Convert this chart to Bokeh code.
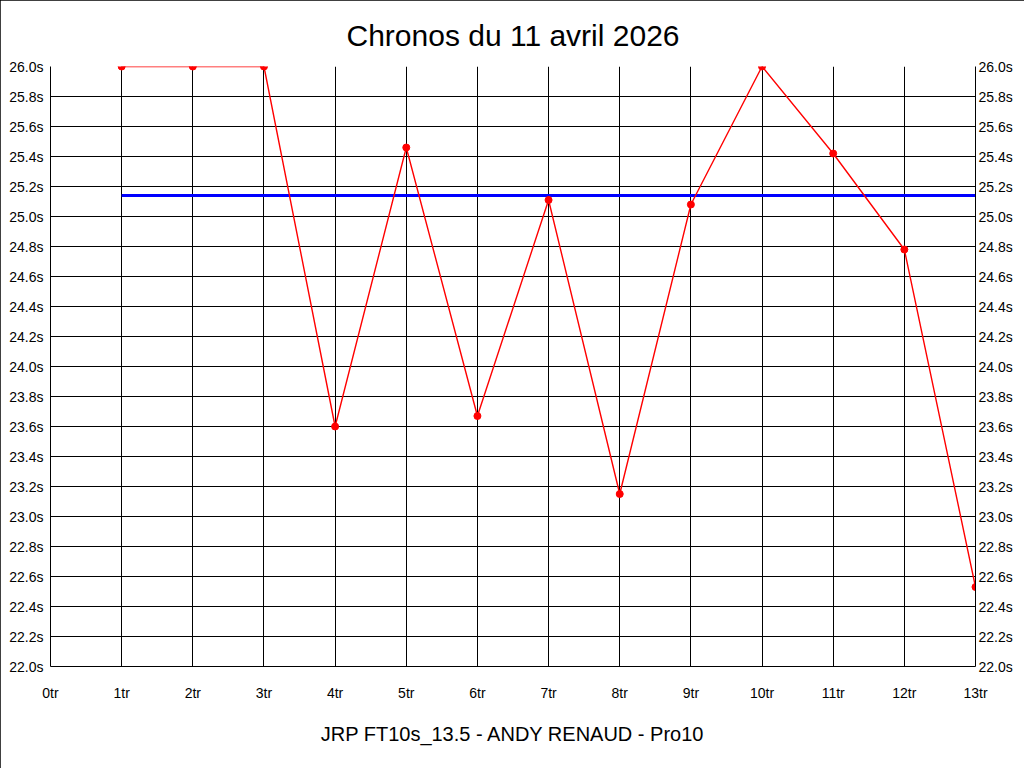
from bokeh.plotting import figure
from bokeh.models import (LinearAxis, FixedTicker, PrintfTickFormatter, Range1d, Title)
from bokeh.embed import file_html
from bokeh.resources import INLINE

# Data
laps = [1, 2, 3, 4, 5, 6, 7, 8, 9, 10, 11, 12, 13]
times = [26.0, 26.0, 26.0, 23.6, 25.46, 23.67, 25.11, 23.15, 25.08, 26.0, 25.42, 24.78, 22.53]
reference_time = 25.14
x_ticks = list(range(0, 14))
y_ticks = [round(22.0 + 0.2 * i, 1) for i in range(21)]
title_text = "Chronos du 11 avril 2026"
footer_text = "JRP FT10s_13.5 - ANDY RENAUD - Pro10"

FONT = "Liberation Sans"

p = figure(width=1024, height=768, output_backend="svg", toolbar_location=None,
           x_range=Range1d(0, 13), y_range=Range1d(22.0, 26.0),
           min_border_left=50, min_border_right=49, min_border_top=66, min_border_bottom=102,
           y_axis_location=None, x_axis_location=None)

p.title.text = title_text
p.title.align = "center"
p.title.text_font = FONT
p.title.text_font_size = "30px"
p.title.text_font_style = "normal"
p.title.text_color = "black"
p.title.standoff = 29

p.styles = {"outline": "2px solid black", "outline-offset": "-2px"}
p.background_fill_color = "white"
p.border_fill_color = "white"
p.outline_line_color = None

def style_axis(ax):
    ax.major_label_text_font = FONT
    ax.major_label_text_font_size = "14px"
    ax.major_label_text_color = "black"
    ax.major_tick_line_color = None
    ax.minor_tick_line_color = None
    ax.axis_line_color = "black"
    ax.axis_line_width = 1

left = LinearAxis(ticker=FixedTicker(ticks=y_ticks), formatter=PrintfTickFormatter(format="%.1fs"))
style_axis(left)
left.major_label_standoff = 1
p.add_layout(left, "left")

right = LinearAxis(ticker=FixedTicker(ticks=y_ticks), formatter=PrintfTickFormatter(format="%.1fs"))
style_axis(right)
right.major_label_standoff = -3
p.add_layout(right, "right")

bottom = LinearAxis(ticker=FixedTicker(ticks=x_ticks), formatter=PrintfTickFormatter(format="%dtr"))
style_axis(bottom)
bottom.major_label_standoff = 12
p.add_layout(bottom, "below")

footer = Title(text=footer_text, align="center", text_font=FONT, text_font_size="20px",
               text_font_style="normal", text_color="black", standoff=34)
p.add_layout(footer, "below")

p.xgrid.ticker = FixedTicker(ticks=x_ticks)
p.ygrid.ticker = FixedTicker(ticks=y_ticks)
for g in (p.xgrid, p.ygrid):
    g.grid_line_color = "black"
    g.grid_line_alpha = 1.0
    g.grid_line_width = 1

p.line([laps[0], laps[-1]], [reference_time, reference_time], line_color="#0000ff", line_width=3)
p.line(laps, times, line_color="#ff0000", line_width=1.4)
p.scatter(laps, times, size=7, fill_color="#ff0000", line_color="#ff0000")

open("out.html", "w").write(file_html(p, INLINE))
